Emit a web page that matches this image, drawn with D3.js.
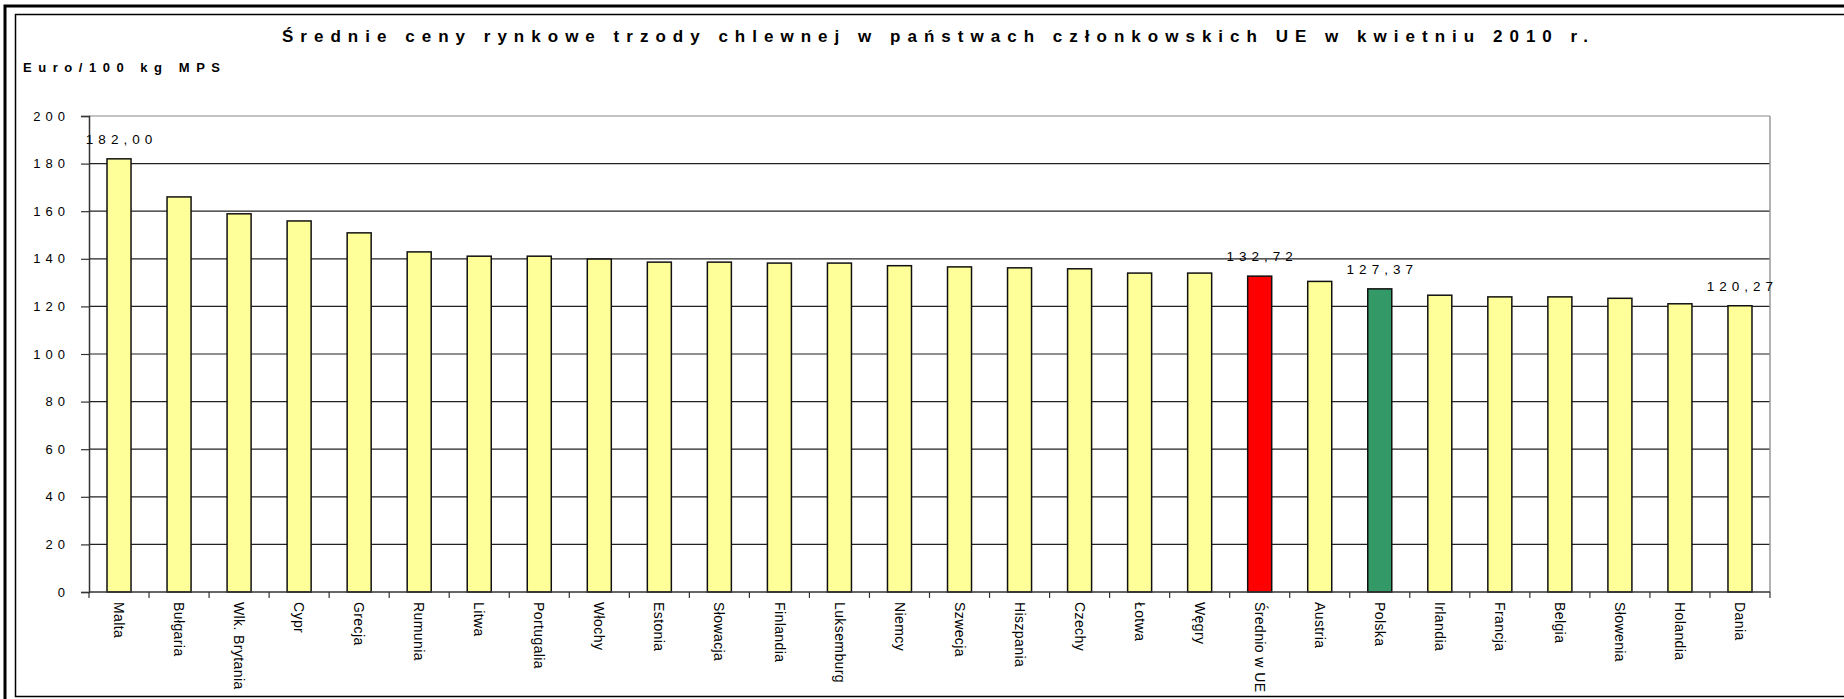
<!DOCTYPE html>
<html>
<head>
<meta charset="utf-8">
<script src="https://cdn.jsdelivr.net/npm/d3@7"></script>
<style>
  body { margin: 0; background: #fff; }
  svg { display: block; font-family: "Liberation Sans", Arial, sans-serif; }
</style>
</head>
<body>
<svg id="chart"></svg>
<script>
// dane
var kraje = ["Malta", "Bułgaria", "Wlk. Brytania", "Cypr", "Grecja", "Rumunia", "Litwa",
  "Portugalia", "Włochy", "Estonia", "Słowacja", "Finlandia", "Luksemburg", "Niemcy",
  "Szwecja", "Hiszpania", "Czechy", "Łotwa", "Węgry", "Średnio w UE", "Austria", "Polska",
  "Irlandia", "Francja", "Belgia", "Słowenia", "Holandia", "Dania"];
var ceny = [182.00, 166.0, 158.9, 155.9, 150.9, 142.9, 141.1,
  141.1, 139.9, 138.6, 138.6, 138.2, 138.2, 137.1,
  136.6, 136.2, 135.8, 134.0, 134.0, 132.72, 130.5, 127.37,
  124.7, 124.0, 124.0, 123.4, 121.1, 120.27];
var yTicks = [0, 20, 40, 60, 80, 100, 120, 140, 160, 180, 200];
var podpisane = ["Malta", "Średnio w UE", "Polska", "Dania"];
var kolory = {"Średnio w UE": "#ff0000", "Polska": "#339966"};

var data = kraje.map(function (k, i) { return {kraj: k, value: ceny[i]}; });

var width = 1844, height = 699;
var margin = {top: 116, bottom: 107, left: 89, right: 74};

var svg = d3.select("#chart")
    .attr("width", width)
    .attr("height", height);

// ramki
svg.append("path")
    .attr("d", "M5,699 V6 H1844")
    .attr("fill", "none")
    .attr("stroke", "#000")
    .attr("stroke-width", 3);
svg.append("rect")
    .attr("x", 15.5).attr("y", 14.5)
    .attr("width", 1840).attr("height", 682)
    .attr("fill", "none")
    .attr("stroke", "#000")
    .attr("stroke-width", 1.5);

var xScale = d3.scaleBand()
    .domain(kraje)
    .range([margin.left, width - margin.right])
    .paddingInner(0.6)
    .paddingOuter(0.3);

var yScale = d3.scaleLinear()
    .domain([0, 200])
    .range([height - margin.bottom, margin.top]);

// siatka
svg.append("g")
    .selectAll("line")
    .data(yTicks.filter(function (d) { return d > 0; }))
    .enter().append("line")
    .attr("x1", margin.left)
    .attr("x2", width - margin.right)
    .attr("y1", function (d) { return yScale(d); })
    .attr("y2", function (d) { return yScale(d); })
    .attr("stroke", function (d) { return d == 200 ? "#888" : "#222"; })
    .attr("stroke-width", 1.2);

svg.append("line")
    .attr("x1", width - margin.right).attr("x2", width - margin.right)
    .attr("y1", yScale(200)).attr("y2", yScale(0))
    .attr("stroke", "#999")
    .attr("stroke-width", 1.5);

// os Y
var yAxis = d3.axisLeft(yScale).tickValues(yTicks).tickSize(8).tickPadding(11);
var gy = svg.append("g")
    .attr("transform", "translate(" + margin.left + ",0)")
    .call(yAxis);
gy.select(".domain").attr("stroke", "#333").attr("stroke-width", 1.5);
gy.selectAll(".tick line").attr("stroke", "#333").attr("stroke-width", 1.2);
gy.selectAll("text")
    .style("font-size", "13px")
    .style("letter-spacing", "5px")
    .attr("fill", "#000");

// slupki
svg.selectAll(".bar")
    .data(data)
    .enter().append("rect")
    .attr("class", "bar")
    .attr("x", function (d) { return xScale(d.kraj); })
    .attr("y", function (d) { return yScale(d.value); })
    .attr("width", xScale.bandwidth())
    .attr("height", function (d) { return yScale(0) - yScale(d.value); })
    .attr("fill", function (d) { return kolory[d.kraj] || "#ffff99"; })
    .attr("stroke", "#111")
    .attr("stroke-width", 1.5);

// os X
var step = xScale.step();
var granice = kraje.map(function (k) { return xScale(k) - step * 0.3; });
granice.push(width - margin.right);
svg.append("line")
    .attr("x1", margin.left).attr("x2", width - margin.right)
    .attr("y1", yScale(0)).attr("y2", yScale(0))
    .attr("stroke", "#333").attr("stroke-width", 1.5);
svg.append("g")
    .selectAll("line")
    .data(granice)
    .enter().append("line")
    .attr("x1", function (d) { return d; })
    .attr("x2", function (d) { return d; })
    .attr("y1", yScale(0))
    .attr("y2", yScale(0) + 6)
    .attr("stroke", "#333")
    .attr("stroke-width", 1.2);

svg.append("g")
    .selectAll("text")
    .data(data)
    .enter().append("text")
    .attr("transform", function (d) {
        return "translate(" + (xScale(d.kraj) + xScale.bandwidth() / 2) + "," + (yScale(0) + 10) + ")rotate(90)";
    })
    .attr("dy", "0.35em")
    .style("font-size", "14px")
    .style("letter-spacing", "0.4px")
    .text(function (d) { return d.kraj; });

// etykiety wartosci
svg.append("g")
    .selectAll("text")
    .data(data.filter(function (d) { return podpisane.indexOf(d.kraj) >= 0; }))
    .enter().append("text")
    .attr("x", function (d) { return xScale(d.kraj) + xScale.bandwidth() / 2 + 2.5; })
    .attr("y", function (d) { return yScale(d.value) - 15; })
    .attr("text-anchor", "middle")
    .style("font-size", "13.5px")
    .style("letter-spacing", "5px")
    .text(function (d) { return d3.format(".2f")(d.value).replace(".", ","); });

// tytul
svg.append("text")
    .attr("x", 282)
    .attr("y", 42)
    .attr("textLength", 1306)
    .attr("lengthAdjust", "spacing")
    .style("font-size", "17px")
    .style("font-weight", "bold")
    .text("Średnie ceny rynkowe trzody chlewnej w państwach członkowskich UE w kwietniu 2010 r.");

svg.append("text")
    .attr("x", 23)
    .attr("y", 72)
    .attr("textLength", 197)
    .attr("lengthAdjust", "spacing")
    .style("font-size", "13px")
    .style("font-weight", "bold")
    .text("Euro/100 kg MPS");
</script>
</body>
</html>
